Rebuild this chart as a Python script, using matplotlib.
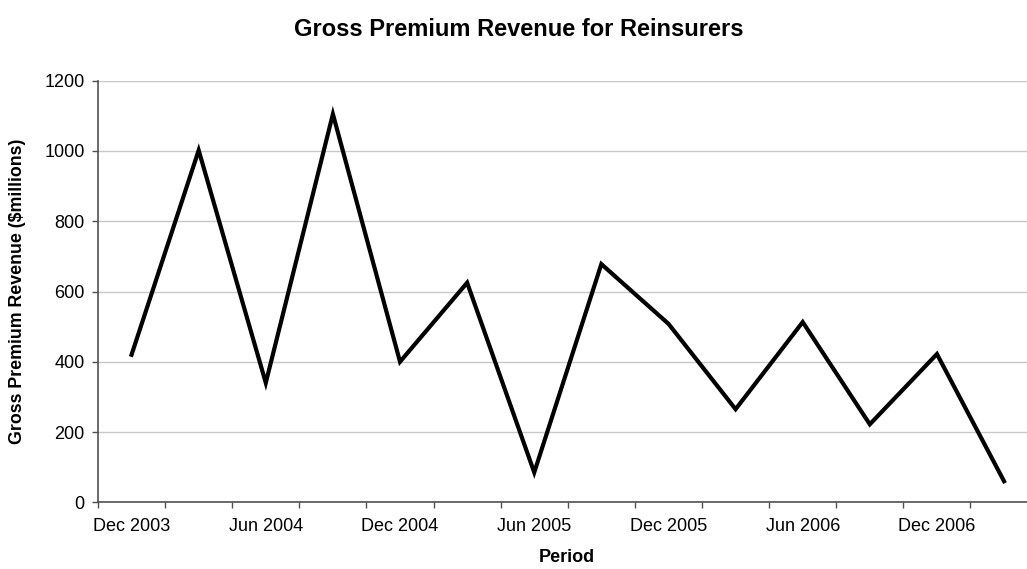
import matplotlib.pyplot as plt
import numpy as np

plt.rcParams['font.family'] = ['Liberation Sans', 'DejaVu Sans']

quarters = ["Dec 2003", "Mar 2004", "Jun 2004", "Sep 2004", "Dec 2004", "Mar 2005",
            "Jun 2005", "Sep 2005", "Dec 2005", "Mar 2006", "Jun 2006", "Sep 2006",
            "Dec 2006", "Mar 2007"]
revenue = [420, 1002, 340, 1105, 400, 625, 85, 678, 508, 265, 513, 222, 422, 60]

W, H = 1027, 569
fig = plt.figure(figsize=(W / 100, H / 100), dpi=100)
# plot area runs a little past the right edge, as in the original
ax = fig.add_axes([98 / W, (H - 502.3) / H, (1037.6 - 98) / W, (502.3 - 80.7) / H])

x = np.arange(len(quarters))
ax.plot(x, revenue, color='black', linewidth=3, solid_joinstyle='miter', zorder=3)

ax.set_xlim(-0.5, len(quarters) - 0.5)
ax.set_ylim(0, 1200)
ax.set_yticks(np.arange(0, 1201, 200))
ax.yaxis.grid(True, color='#c8c8c8', linewidth=1)
ax.set_axisbelow(True)

# tick marks on category boundaries, labels on every second quarter
ax.set_xticks(np.arange(-0.5, len(quarters) - 0.4, 1.0))
ax.set_xticklabels([])
ax.set_xticks(x[::2], minor=True)
ax.set_xticklabels(quarters[::2], minor=True)
ax.tick_params(axis='x', which='major', length=4.5, width=1, color='#505050')
ax.tick_params(axis='x', which='minor', length=0, pad=11, labelsize=13)
ax.tick_params(axis='y', length=4.5, width=1, color='#505050', labelsize=13, pad=5)

for side in ['top', 'right']:
    ax.spines[side].set_visible(False)
for side in ['left', 'bottom']:
    ax.spines[side].set_color('#505050')
    ax.spines[side].set_linewidth(1.2)

fig.text(519 / W, 1 - 30 / H, "Gross Premium Revenue for Reinsurers",
         ha='center', va='center', fontsize=17, fontweight='bold')
fig.text(567 / W, 1 - 557 / H, "Period", ha='center', va='center',
         fontsize=13, fontweight='bold')
fig.text(18 / W, 1 - 291.5 / H, "Gross Premium Revenue ($millions)", ha='center',
         va='center', rotation=90, fontsize=12.8, fontweight='bold')

fig.savefig('out.png', dpi=100)
